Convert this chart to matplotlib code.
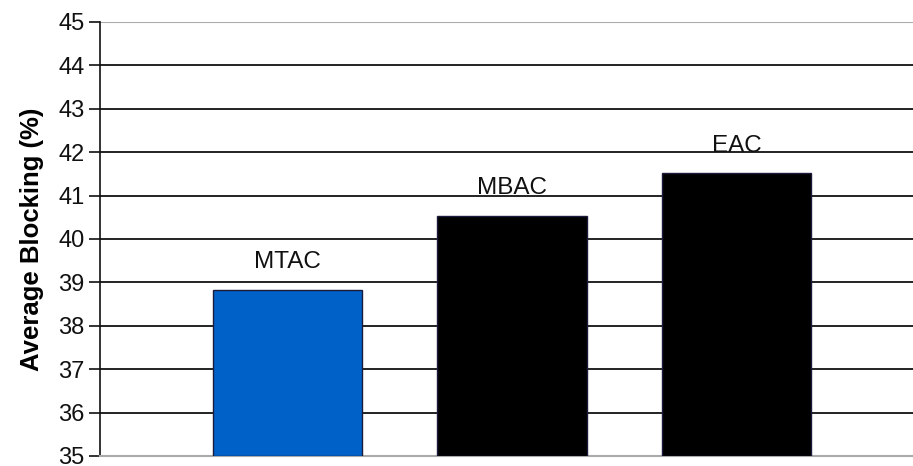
import numpy as np
import matplotlib.pyplot as plt

categorias = ['MTAC', 'MBAC', 'EAC']
bloqueo = [38.82, 40.54, 41.51]
colores = ['#0062C8', '#000000', '#000000']
y_ticks = list(range(35, 46))

plt.rcParams['font.family'] = ['Liberation Sans', 'DejaVu Sans']

fig = plt.figure(figsize=(9.13, 4.66), dpi=100)
ax = fig.add_axes([0.1095, 0.0215, 0.8905, 0.9315])

x = np.arange(len(categorias))
barras = ax.bar(x, np.array(bloqueo) - 35, bottom=35, width=0.664,
                color=colores, edgecolor='#1a1a3a', linewidth=1.0, zorder=3)

# etiquetas encima de cada barra
for xi, val, nombre in zip(x, bloqueo, categorias):
    ax.annotate(nombre, (xi, val), xytext=(0, 20), textcoords='offset points',
                ha='center', va='center', fontsize=17.5, color='#111111', zorder=4)

ax.set_ylim(35, 45)
ax.set_xlim(-0.835, 2.786)
ax.set_yticks(y_ticks)
ax.set_xticks([])

# lineas de la rejilla en negro, borde superior e inferior en gris
for t in y_ticks[1:-1]:
    ax.axhline(t, color='#111111', linewidth=1.3, zorder=1)
ax.axhline(45, color='#aaaaaa', linewidth=1.5, zorder=1)

ax.spines['right'].set_visible(False)
ax.spines['top'].set_visible(False)
ax.spines['bottom'].set_color('#aaaaaa')
ax.spines['bottom'].set_linewidth(1.5)
ax.spines['left'].set_color('#111111')
ax.spines['left'].set_linewidth(1.2)

ax.tick_params(axis='y', direction='out', length=8, width=1.2, labelsize=17,
               colors='#111111', pad=3)
ax.set_ylabel('Average Blocking (%)', fontsize=18.5, fontweight='bold', labelpad=10)

fig.savefig('out.png', dpi=100)
